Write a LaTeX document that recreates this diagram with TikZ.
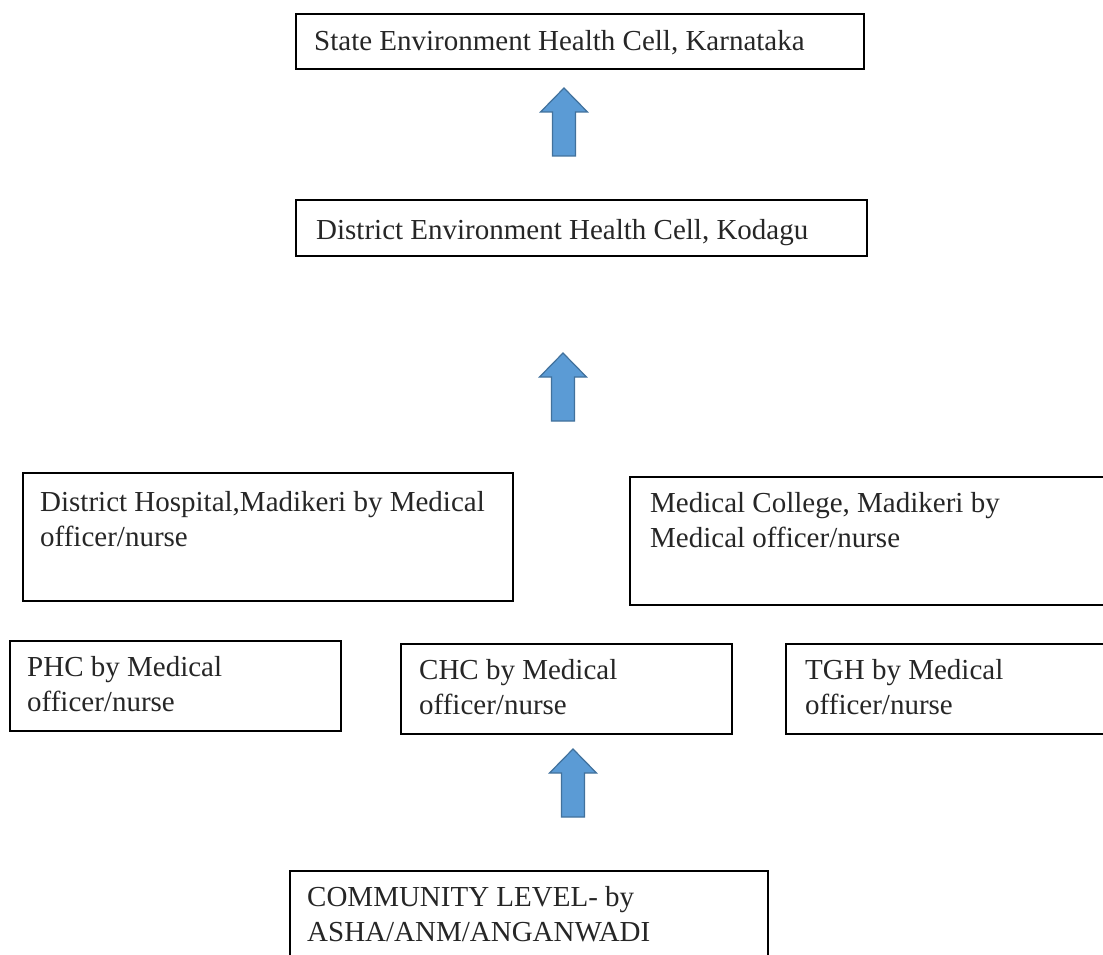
\documentclass[tikz,border=0pt]{standalone}
\usepackage{fontspec}
\setmainfont{Liberation Serif}
\usetikzlibrary{positioning}
\definecolor{arrowblue}{HTML}{5B9BD5}
\definecolor{arrowedge}{HTML}{41719C}

\begin{document}
\begin{tikzpicture}[x=1pt, y=-1pt,
    cell/.style={draw, line width=1.7pt, anchor=north west, inner sep=0pt},
    celltext/.style={inner sep=0pt, align=left, text=black!85, font=\fontsize{29}{35}\selectfont},
    uparr/.pic={
        \draw[fill=arrowblue, draw=arrowedge, line width=1.2pt]
        (0,0) -- (23.5,24) -- (11.5,24) -- (11.5,68) --
        (-11.5,68) -- (-11.5,24) -- (-23.5,24) -- cycle;
    }]
                \useasboundingbox (0,0) rectangle (1103,955);
                \clip (0,0) rectangle (1103,955);

                % State level
                \node[cell, minimum width=568, minimum height=55] (state) at (295,13) {};
                \node[celltext, below right=17pt and 19pt of state.north west] (statetxt)
                {State Environment Health Cell, Karnataka};

                % District level
                \node[cell, minimum width=571, minimum height=56] (district) at (295,199) {};
                \node[celltext, below right=20pt and 21pt of district.north west] (districttxt)
                {District Environment Health Cell, Kodagu};

                % Hospitals
                \node[cell, minimum width=490, minimum height=128] (hospital) at (22,472) {};
                \node[celltext, below right=19pt and 18pt of hospital.north west] (hospitaltxt)
                {District Hospital,Madikeri by Medical\\officer/nurse};

                \node[cell, minimum width=490, minimum height=128] (college) at (629,476) {};
                \node[celltext, below right=16pt and 21pt of college.north west] (collegetxt)
                {Medical College, Madikeri by\\Medical officer/nurse};

                % PHC, CHC, TGH
                \node[cell, minimum width=331, minimum height=90] (phc) at (9,640) {};
                \node[celltext, below right=16pt and 18pt of phc.north west] (phctxt)
                {PHC by Medical\\officer/nurse};

                \node[cell, minimum width=331, minimum height=90] (chc) at (400,643) {};
                \node[celltext, below right=16pt and 19pt of chc.north west] (chctxt)
                {CHC by Medical\\officer/nurse};

                \node[cell, minimum width=330, minimum height=90] (tgh) at (785,643) {};
                \node[celltext, below right=16pt and 20pt of tgh.north west] (tghtxt)
                {TGH by Medical\\officer/nurse};

                % Community level
                \node[cell, minimum width=478, minimum height=100] (community) at (289,870) {};
                \node[celltext, below right=16pt and 18pt of community.north west] (communitytxt)
                {COMMUNITY LEVEL- by\\ASHA/ANM/ANGANWADI};

                % Draw the block arrows
                \foreach \x/\y in {564/88, 563/353, 573/749} {
                \pic at (\x,\y) {uparr};
                }

            \end{tikzpicture}
\end{document}
